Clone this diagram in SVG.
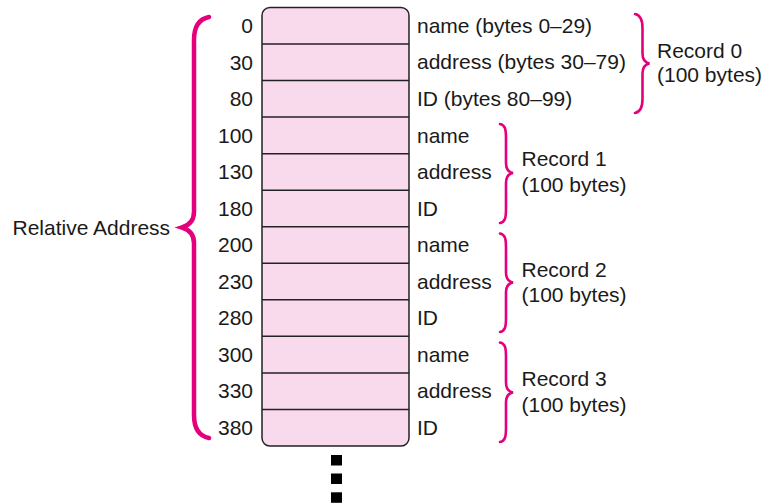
<svg xmlns="http://www.w3.org/2000/svg" width="764" height="504" viewBox="0 0 764 504">
<style>
text { font-family: "Liberation Sans", Arial, sans-serif; font-size: 21px; fill: #1a1a1a; }
.num { text-anchor: end; }
.row { stroke: #222; stroke-width: 1.5; fill: none; }
.brace { fill: none; stroke: #e4007c; stroke-width: 2.6; stroke-linecap: round; }
.bigbrace { fill: none; stroke: #e4007c; stroke-width: 4.5; stroke-linecap: round; }
.dot { fill: #000; }
</style>
<rect width="764" height="504" fill="#fff"/>
<g id="memory-block">
<rect x="262" y="7.5" width="147" height="438.5" rx="8" ry="8" fill="#f9d9ec" stroke="#222" stroke-width="1.5"/>
<line class="row" x1="262" y1="44.04" x2="409" y2="44.04"/>
<line class="row" x1="262" y1="80.58" x2="409" y2="80.58"/>
<line class="row" x1="262" y1="117.12" x2="409" y2="117.12"/>
<line class="row" x1="262" y1="153.66" x2="409" y2="153.66"/>
<line class="row" x1="262" y1="190.2" x2="409" y2="190.2"/>
<line class="row" x1="262" y1="226.74" x2="409" y2="226.74"/>
<line class="row" x1="262" y1="263.28" x2="409" y2="263.28"/>
<line class="row" x1="262" y1="299.82" x2="409" y2="299.82"/>
<line class="row" x1="262" y1="336.36" x2="409" y2="336.36"/>
<line class="row" x1="262" y1="372.9" x2="409" y2="372.9"/>
<line class="row" x1="262" y1="409.44" x2="409" y2="409.44"/>
</g>
<g id="addresses">
<text class="num" x="253" y="33">0</text>
<text class="num" x="253" y="69.5">30</text>
<text class="num" x="253" y="106">80</text>
<text class="num" x="253" y="142.5">100</text>
<text class="num" x="253" y="179">130</text>
<text class="num" x="253" y="215.5">180</text>
<text class="num" x="253" y="252">200</text>
<text class="num" x="253" y="288.5">230</text>
<text class="num" x="253" y="325">280</text>
<text class="num" x="253" y="361.5">300</text>
<text class="num" x="253" y="398">330</text>
<text class="num" x="253" y="434.5">380</text>
</g>
<g id="fields">
<text x="417" y="32.5">name (bytes 0–29)</text>
<text x="417" y="69">address (bytes 30–79)</text>
<text x="417" y="106">ID (bytes 80–99)</text>
<text x="417" y="142.5">name</text>
<text x="417" y="179">address</text>
<text x="417" y="215.5">ID</text>
<text x="417" y="252">name</text>
<text x="417" y="288.5">address</text>
<text x="417" y="325">ID</text>
<text x="417" y="361.5">name</text>
<text x="417" y="398">address</text>
<text x="417" y="434.5">ID</text>
</g>
<g id="relative-address">
<path class="bigbrace" d="M209,17 C199,19 194,27 194,40 L194,212 C194,220 190,225 182,227.5 C190,230 194,235 194,243 L194,415 C194,428 199,436 209,438"/>
<text x="12.5" y="235">Relative Address</text>
</g>
<g id="record0">
<path class="brace" d="M635,14 C640,15 642.5,19 642.5,28 L642.5,53.5 C642.5,59.5 644.5,62.5 649.5,63.5 C644.5,64.5 642.5,67.5 642.5,73.5 L642.5,99 C642.5,108 640,112 635,113"/>
<text x="657" y="57.5">Record 0</text>
<text x="657" y="82">(100 bytes)</text>
</g>
<g id="record1">
<path class="brace" d="M500,124 C505,125 506,129 506,138 L506,163 C506,169 508,172 513,173 C508,174 506,177 506,183 L506,209 C506,218 505,222 500,223"/>
<text x="521.5" y="166">Record 1</text>
<text x="521.5" y="191.5">(100 bytes)</text>
</g>
<g id="record2">
<path class="brace" d="M500,233.5 C505,234.5 506,238.5 506,247.5 L506,272.5 C506,278.5 508,281.5 513,282.5 C508,283.5 506,286.5 506,292.5 L506,318 C506,327 505,331 500,332"/>
<text x="521.5" y="276.5">Record 2</text>
<text x="521.5" y="302">(100 bytes)</text>
</g>
<g id="record3">
<path class="brace" d="M500,342.5 C505,343.5 506,347.5 506,356.5 L506,382.5 C506,388.5 508,391.5 513,392.5 C508,393.5 506,396.5 506,402.5 L506,428 C506,437 505,441 500,442"/>
<text x="521.5" y="386">Record 3</text>
<text x="521.5" y="411.5">(100 bytes)</text>
</g>
<g id="continuation">
<rect class="dot" x="331" y="455" width="11" height="10.5"/>
<rect class="dot" x="331" y="473.5" width="11" height="10.5"/>
<rect class="dot" x="331" y="492.3" width="11" height="10.5"/>
</g>
</svg>
